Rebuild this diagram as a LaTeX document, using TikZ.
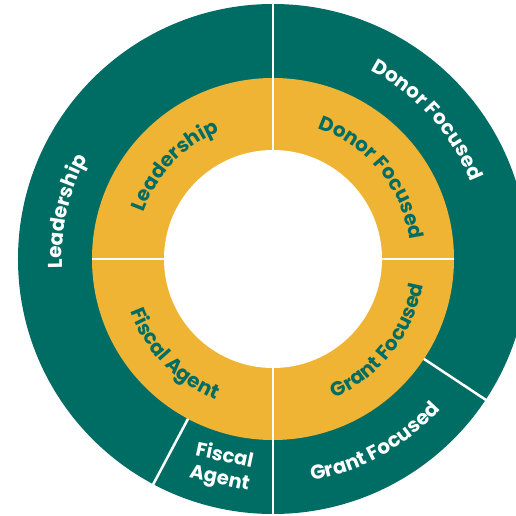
\documentclass[tikz,border=0pt]{standalone}
\usepackage{fontspec}
\newfontfamily\lab{Poppins}[UprightFont=* Bold]
\usetikzlibrary{decorations.text}
\definecolor{teal0}{HTML}{006D64}
\definecolor{gold0}{HTML}{F0B435}
\tikzset{
  curvelab/.style 2 args={decorate, decoration={text along path, text align=center,
      text={|\lab\fontsize{20}{23}\selectfont\color{#1}|#2}}},
  divider/.style={draw=white, line width=2.5pt},
  flatlab/.style={font=\lab\fontsize{19.5}{23}\selectfont, text=white, align=center, inner sep=0pt}
}
\begin{document}
\begin{tikzpicture}[x=1pt,y=1pt]
\useasboundingbox (-273,-257) rectangle (243,259);
\clip (-273,-257) rectangle (243,259);
% rings
\fill[teal0] (0,0) circle[radius=255];
\fill[gold0] (0,0) circle[radius=181];
\fill[white] (0,0) circle[radius=109];
% dividers
\draw[divider] (90:109) -- (90:256);
\draw[divider] (270:109) -- (270:256);
\draw[divider] (180:109) -- (180:181);
\draw[divider] (0:109) -- (0:181);
\draw[divider] (242:181) -- (242:256);
\draw[divider] (326.5:181) -- (326.5:256);
% outer labels
\path[curvelab={white}{Leadership}] (227:211) arc[start angle=227, end angle=107, radius=211];
\path[curvelab={white}{Donor Focused}] (102:212) arc[start angle=102, end angle=-18, radius=212];
\path[curvelab={white}{Grant Focused}] (239:225) arc[start angle=239, end angle=359, radius=225];
\node[flatlab, rotate=-12] (fa) at (-51,-209) {Fiscal\\Agent};
% inner labels
\path[curvelab={teal0}{Leadership}] (196.5:138) arc[start angle=196.5, end angle=76.5, radius=138];
\path[curvelab={teal0}{Donor Focused}] (99.5:138) arc[start angle=99.5, end angle=-20.5, radius=138];
\path[curvelab={teal0}{Fiscal Agent}] (164:152) arc[start angle=164, end angle=284, radius=152];
\path[curvelab={teal0}{Grant Focused}] (262:152) arc[start angle=262, end angle=382, radius=152];
\end{tikzpicture}
\end{document}
